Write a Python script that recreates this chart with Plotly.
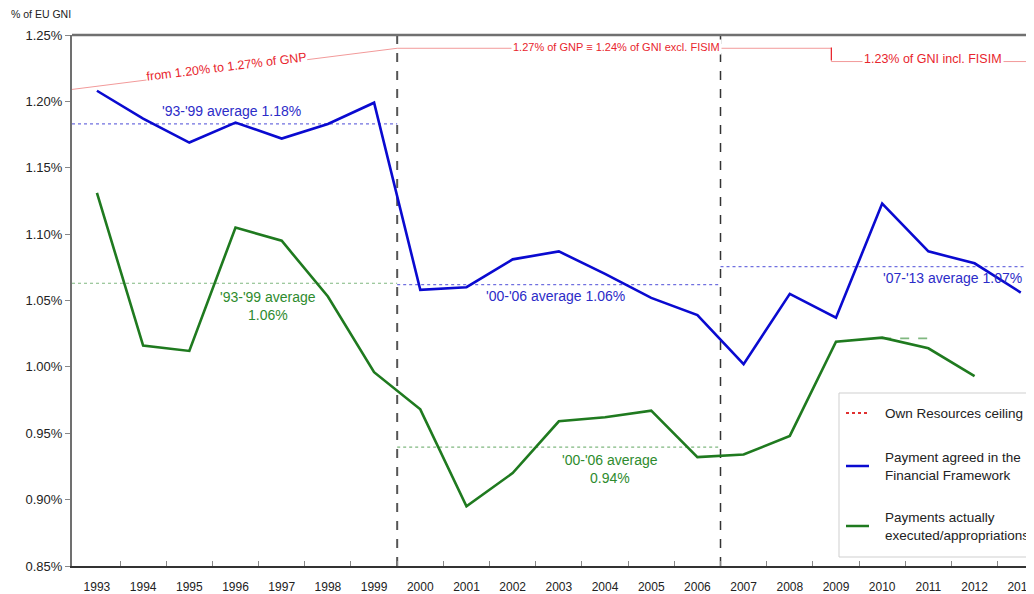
import plotly.graph_objects as go

# ---------------- data ----------------
years = list(range(1993, 2014))
payment_agreed = [1.208, 1.187, 1.169, 1.184, 1.172, 1.183, 1.199,
                  1.058, 1.060, 1.081, 1.087, 1.070, 1.052, 1.039,
                  1.002, 1.055, 1.037, 1.123, 1.087, 1.078, 1.056]
green_years = list(range(1993, 2013))
payments_executed = [1.131, 1.016, 1.012, 1.105, 1.095, 1.053, 0.996,
                     0.968, 0.895, 0.920, 0.959, 0.962, 0.967, 0.932,
                     0.934, 0.948, 1.019, 1.022, 1.014, 0.993]

X_MIN, X_MAX = 1992.46, 2013.46
ceiling_x = [X_MIN, 1999.5, 2008.9, 2008.9, X_MAX]
ceiling_y = [1.209, 1.240, 1.240, 1.230, 1.230]

blue_avg_x = [[X_MIN, 1999.5], [1999.5, 2006.5], [2006.5, X_MAX]]
blue_avg_y = [1.183, 1.062, 1.0755]
green_avg_x = [[X_MIN, 1999.5], [1999.5, 2006.5], [2010, 2011]]
green_avg_y = [1.063, 0.9395, 1.0215]

period_breaks = [1999.5, 2006.5]
y_ticks = [0.85, 0.90, 0.95, 1.00, 1.05, 1.10, 1.15, 1.20, 1.25]

BLUE = "#0a0ad0"
GREEN = "#1f7a1f"
BLUE_TXT = "#2c2cc8"
GREEN_TXT = "#2e8b2e"
RED_TXT = "#e8252d"
FONT = "Liberation Sans, Arial, sans-serif"

# ---------------- layout geometry ----------------
# the page body adds an 8px offset; work in screen pixels and convert
OFF = 8
W, H = 1034, 594
L, R, T, B = 72 - OFF, 0, 35 - OFF, 594 - (566 - OFF)
PW, PH = W - L - R, H - T - B


def px(x):
    return (x - OFF - L) / PW


def py(y):
    return (H - B - (y - OFF)) / PH


fig = go.Figure()

# ceiling line
fig.add_trace(go.Scatter(x=ceiling_x, y=ceiling_y, mode="lines", name="Own Resources ceiling",
                         line=dict(color="#f29a9a", width=1), showlegend=False, hoverinfo="skip"))

# averages
for xs, v in zip(blue_avg_x, blue_avg_y):
    fig.add_trace(go.Scatter(x=xs, y=[v, v], mode="lines", showlegend=False, hoverinfo="skip",
                             line=dict(color="#7070e0", width=1.2, dash="dot")))
for i, (xs, v) in enumerate(zip(green_avg_x, green_avg_y)):
    fig.add_trace(go.Scatter(x=xs, y=[v, v], mode="lines", showlegend=False, hoverinfo="skip",
                             line=dict(color="#80b880", width=1.2 if i < 2 else 1.8,
                                       dash="dot" if i < 2 else "dash")))

# main series
fig.add_trace(go.Scatter(x=years, y=payment_agreed, mode="lines",
                         name="Payment agreed in the Financial Framework",
                         line=dict(color=BLUE, width=2.6), showlegend=False))
fig.add_trace(go.Scatter(x=green_years, y=payments_executed, mode="lines",
                         name="Payments actually executed/appropriations",
                         line=dict(color=GREEN, width=2.6), showlegend=False))

shapes = []
# period separators
for xb, col, w in zip(period_breaks, ["#555555", "#333333"], [2, 1.5]):
    shapes.append(dict(type="line", xref="x", yref="paper", x0=xb, x1=xb, y0=0, y1=1,
                       line=dict(color=col, width=w, dash="dash"), layer="below"))
# top frame
shapes.append(dict(type="line", xref="paper", yref="paper", x0=0, x1=1, y0=1, y1=1,
                   line=dict(color="#707070", width=2.5)))
# small red step mark
shapes.append(dict(type="line", xref="x", yref="y", x0=2008.9, x1=2008.9, y0=1.231, y1=1.2405,
                   line=dict(color=RED_TXT, width=1.2)))

# legend box
shapes.append(dict(type="rect", xref="paper", yref="paper", x0=px(839), x1=px(1050), y0=py(557), y1=py(393),
                   line=dict(color="#cfcfcf", width=1), fillcolor="white"))
legend_items = [(413, "dot", "#e03030", ["Own Resources ceiling"]),
                (466, "solid", BLUE, ["Payment agreed in the", "Financial Framework"]),
                (526, "solid", GREEN, ["Payments actually", "executed/appropriations"])]
annotations = []
for yc, dash, col, lines in legend_items:
    shapes.append(dict(type="line", xref="paper", yref="paper", x0=px(846), x1=px(869), y0=py(yc), y1=py(yc),
                       line=dict(color=col, width=2.5 if dash == "solid" else 2, dash=dash)))
    annotations.append(dict(xref="paper", yref="paper", x=px(883), y=py(yc), text="<br>".join(lines),
                            showarrow=False, xanchor="left", yanchor="middle", align="left",
                            font=dict(family=FONT, size=13.5, color="#222222")))


def ann(x, y, text, color, size=14, **kw):
    d = dict(xref="paper", yref="paper", x=px(x), y=py(y), text=text, showarrow=False,
             xanchor="center", yanchor="middle", font=dict(family=FONT, size=size, color=color))
    d.update(kw)
    annotations.append(d)


ann(231, 111, "'93-'99 average 1.18%", BLUE_TXT)
ann(268, 306, "'93-'99 average<br>1.06%", GREEN_TXT)
ann(555, 296, "'00-'06 average 1.06%", BLUE_TXT)
ann(610, 469, "'00-'06 average<br>0.94%", GREEN_TXT)
ann(952, 278, "'07-'13 average 1.07%", BLUE_TXT)
ann(226, 67, "from 1.20% to 1.27% of GNP", RED_TXT, size=12.5, textangle=-7, bgcolor="white", borderpad=0)
ann(616, 47, "1.27% of GNP \u2261 1.24% of GNI excl. FISIM", RED_TXT, size=11, bgcolor="white", borderpad=1)
ann(933, 59, "1.23% of GNI incl. FISIM", RED_TXT, size=12.5, bgcolor="white", borderpad=1)
ann(9, 14, "% of EU GNI", "#222222", size=10.5, xanchor="left")

fig.update_layout(
    width=W, height=H,
    margin=dict(l=L, r=R, t=T, b=B),
    paper_bgcolor="white", plot_bgcolor="white",
    shapes=shapes, annotations=annotations,
    showlegend=False,
    font=dict(family=FONT, color="#222222"),
    xaxis=dict(range=[X_MIN, X_MAX], tickmode="array", tickvals=years, automargin=False,
               ticktext=[str(y) for y in years], ticks="", showgrid=False, zeroline=False,
               showline=True, linecolor="#333333", linewidth=2,
               tickfont=dict(family=FONT, size=12, color="#222222"), ticklabelstandoff=9,
               minor=dict(tickmode="array", tickvals=[y + 0.5 for y in years], ticks="inside",
                          ticklen=5, tickcolor="#888888", showgrid=False)),
    yaxis=dict(range=[0.85, 1.25], tickmode="array", tickvals=y_ticks, automargin=False,
               ticktext=[f"{v:.2f}%" for v in y_ticks], ticks="outside", ticklen=5,
               tickcolor="#888888", showgrid=False, zeroline=False,
               showline=True, linecolor="#707070", linewidth=2,
               tickfont=dict(family=FONT, size=13, color="#222222")),
)

fig.write_html("out.html")
